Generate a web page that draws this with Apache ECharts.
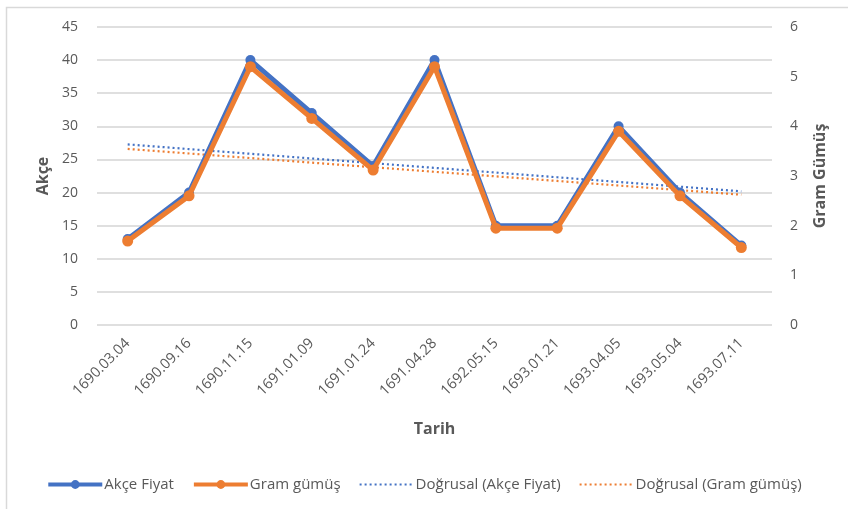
<!DOCTYPE html>
<html><head><meta charset="utf-8">
<script src="https://cdn.jsdelivr.net/npm/echarts@6/dist/echarts.min.js"></script>
<style>html,body{margin:0;padding:0;background:#fff}#c{width:848px;height:509px}</style>
</head><body><div id="c"></div>
<script>
const categories = ['1690.03.04','1690.09.16','1690.11.15','1691.01.09','1691.01.24','1691.04.28','1692.05.15','1693.01.21','1693.04.05','1693.05.04','1693.07.11'];
const akceFiyat = [13, 20, 40, 32, 24, 40, 15, 15, 30, 20, 12];
const gramGumus = [1.69, 2.6, 5.2, 4.16, 3.12, 5.2, 1.95, 1.95, 3.9, 2.6, 1.56];
const leftTicks = [0, 45, 5];
const rightTicks = [0, 6, 1];

function linearTrend(vals){
  const n = vals.length;
  let sx=0, sy=0, sxy=0, sxx=0;
  vals.forEach((v,i)=>{sx+=i; sy+=v; sxy+=i*v; sxx+=i*i;});
  const b = (n*sxy - sx*sy)/(n*sxx - sx*sx);
  const a = (sy - b*sx)/n;
  return vals.map((v,i)=>+(a+b*i).toFixed(4));
}

const blue = '#4472C4', orange = '#ED7D31', txt = '#595959';
const font = '"Open Sans", "Noto Sans", sans-serif';
const chart = echarts.init(document.getElementById('c'), null, {renderer:'canvas'});
chart.setOption({
  animation:false,
  textStyle:{fontFamily:font},
  graphic:[{type:'rect', left:4, top:5, shape:{x:0,y:0,width:860,height:520}, style:{fill:'none', stroke:'#D9D9D9', lineWidth:1.5}, silent:true}],
  grid:{left:97, right:76, top:27, bottom:184},
  legend:{
    top:472, left:'center', itemWidth:54, itemHeight:11, itemGap:18,
    textStyle:{color:txt, fontSize:15, fontFamily:font, padding:[0,0,0,-3]},
    data:[
      {name:'Akçe Fiyat', lineStyle:{width:4}},
      {name:'Gram gümüş', lineStyle:{width:4}},
      {name:'Doğrusal (Akçe Fiyat)', itemStyle:{opacity:0}},
      {name:'Doğrusal (Gram gümüş)', itemStyle:{opacity:0}}
    ]
  },
  xAxis:{
    type:'category', data:categories, boundaryGap:true,
    name:'Tarih', nameLocation:'middle', nameGap:96,
    nameTextStyle:{color:txt, fontWeight:'bold', fontSize:16, fontFamily:font},
    axisLine:{show:false}, axisTick:{show:false},
    axisLabel:{rotate:45, interval:0, color:txt, fontSize:14.5, margin:16, fontFamily:font}
  },
  yAxis:[{
    type:'value', min:leftTicks[0], max:leftTicks[1], interval:leftTicks[2],
    name:'Akçe', nameLocation:'middle', nameGap:46, nameRotate:90,
    nameTextStyle:{color:txt, fontWeight:'bold', fontSize:16, fontFamily:font},
    axisLine:{show:false}, axisTick:{show:false},
    axisLabel:{color:txt, fontSize:14, margin:19, fontFamily:font},
    splitLine:{lineStyle:{color:'#D4D4D4', width:1.5}}
  },{
    type:'value', min:rightTicks[0], max:rightTicks[1], interval:rightTicks[2],
    name:'Gram Gümüş', nameLocation:'middle', nameGap:40, nameRotate:90,
    nameTextStyle:{color:txt, fontWeight:'bold', fontSize:16, fontFamily:font},
    axisLine:{show:false}, axisTick:{show:false},
    axisLabel:{color:txt, fontSize:14, margin:18, fontFamily:font},
    splitLine:{show:false}
  }],
  series:[
    {name:'Akçe Fiyat', type:'line', yAxisIndex:0, data:akceFiyat, symbol:'circle', symbolSize:10,
     lineStyle:{color:blue, width:5}, itemStyle:{color:blue}, z:3},
    {name:'Gram gümüş', type:'line', yAxisIndex:1, data:gramGumus, symbol:'circle', symbolSize:11,
     lineStyle:{color:orange, width:5}, itemStyle:{color:orange}, z:4},
    {name:'Doğrusal (Akçe Fiyat)', type:'line', yAxisIndex:0, data:linearTrend(akceFiyat), symbol:'none',
     lineStyle:{color:blue, width:2.2, type:[2,3]}, itemStyle:{color:blue}, z:2},
    {name:'Doğrusal (Gram gümüş)', type:'line', yAxisIndex:1, data:linearTrend(gramGumus), symbol:'none',
     lineStyle:{color:orange, width:2.2, type:[2,3]}, itemStyle:{color:orange}, z:2}
  ]
});
</script></body></html>
